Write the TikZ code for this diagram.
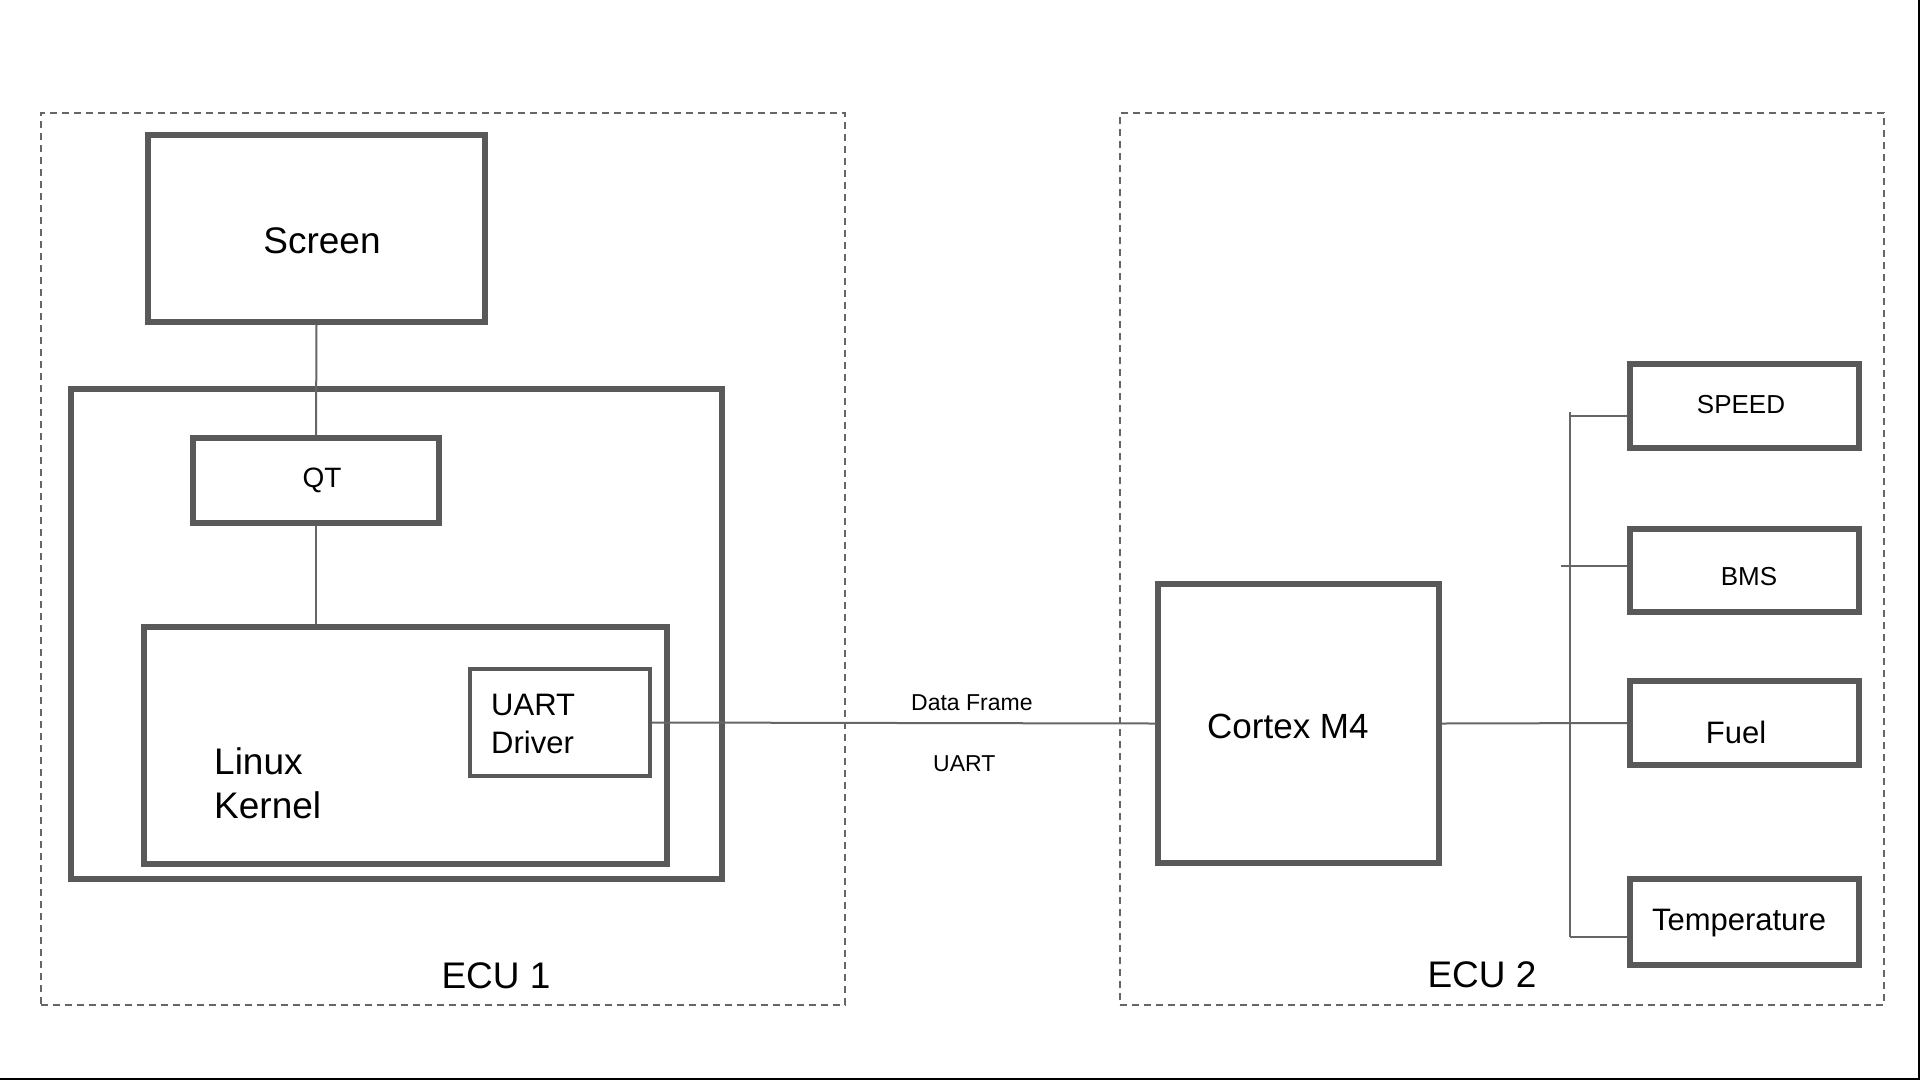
\documentclass[tikz,border=0pt]{standalone}
\usepackage{fontspec}
\setmainfont{Liberation Sans}
\definecolor{boxgray}{HTML}{595959}
\definecolor{linegray}{HTML}{666666}
\begin{document}
\begin{tikzpicture}[x=1pt,y=-1pt,
  box/.style={draw=boxgray, line width=5.5pt, rectangle, inner sep=0pt, fill=none},
  thinbox/.style={draw=boxgray, line width=3.5pt, rectangle, inner sep=0pt},
  ecu/.style={draw=linegray, line width=2pt, dash pattern=on 7pt off 5pt, rectangle, inner sep=0pt},
  wire/.style={draw=linegray, line width=2pt},
  txt/.style={inner sep=0pt, text=black},
  fbig/.style={font=\fontsize{37}{44}\selectfont},
  fmid/.style={font=\fontsize{31}{37}\selectfont},
  fqt/.style={font=\fontsize{28}{34}\selectfont},
  fsens/.style={font=\fontsize{26}{31}\selectfont},
  fsmall/.style={font=\fontsize{23}{28}\selectfont}
]
\useasboundingbox (0,0) rectangle (1920,1080);
\fill[white] (0,0) rectangle (1920,1080);

% ECU frames
\node[ecu, minimum width=804pt, minimum height=892pt] (ecu1) at (443,559) {};
\node[ecu, minimum width=764pt, minimum height=892pt] (ecu2) at (1502,559) {};

% ECU 1 content
\node[box, minimum width=337pt, minimum height=187pt] (screen) at (316.5,228.5) {};
\node[box, minimum width=651pt, minimum height=490pt] (outer) at (396.5,634) {};
\node[box, minimum width=246pt, minimum height=85pt] (qt) at (316,480.5) {};
\node[box, minimum width=523pt, minimum height=237pt] (kernel) at (405.5,745.5) {};
\node[thinbox, minimum width=180pt, minimum height=107pt] (uartdrv) at (560,722.5) {};

\node[txt, fbig] (screentxt) at (322,241) {Screen};
\node[txt, fqt] (qttxt) at (322,480) {QT};
\node[txt, fbig, anchor=base west] (lk1) at (214,774) {Linux};
\node[txt, fbig, anchor=base west] (lk2) at (214,818) {Kernel};
\node[txt, fmid, anchor=base west] (ud1) at (491,715) {UART};
\node[txt, fmid, anchor=base west] (ud2) at (491,753) {Driver};
\node[txt, fbig] (ecu1txt) at (496,976) {ECU 1};

% ECU 2 content
\node[box, minimum width=281pt, minimum height=279pt] (cortex) at (1298.5,723.5) {};
\node[txt, fbig, font=\fontsize{35}{42}\selectfont, anchor=base west] (cortextxt) at (1207,738) {Cortex M4};
\node[box, minimum width=229pt, minimum height=84pt] (speed) at (1744.5,406) {};
\node[box, minimum width=229pt, minimum height=83pt] (bms) at (1744.5,570.5) {};
\node[box, minimum width=229pt, minimum height=84pt] (fuel) at (1744.5,723) {};
\node[box, minimum width=229pt, minimum height=86pt] (temp) at (1744.5,922) {};
\node[txt, fsens] (speedtxt) at (1741,405) {SPEED};
\node[txt, fsens] (bmstxt) at (1749,577) {BMS};
\node[txt, fmid] (fueltxt) at (1736,732) {Fuel};
\node[txt, fmid] (temptxt) at (1739,923) {Temperature};
\node[txt, fbig] (ecu2txt) at (1482,975) {ECU 2};

% link labels
\node[txt, fsmall, anchor=base west] (dftxt) at (911,710) {Data Frame};
\node[txt, fsmall, anchor=base west] (uarttxt) at (933,771) {UART};

% connectors
\draw[wire] (screen.south) -- (qt.north);
\draw[wire] (qt.south) -- (qt.south |- kernel.north);
\draw[wire] (uartdrv.east) -- (cortex.west);
\draw[wire] (cortex.east) -- (fuel.west);

\coordinate (bt) at (1570,412);
\coordinate (bb) at (1570,937);
\coordinate (sp) at (1570,416);
\coordinate (bm) at (1561,566);
\draw[wire] (bt) -- (bb);
\draw[wire] (sp) -- (sp -| speed.west);
\draw[wire] (bm) -- (bm -| bms.west);
\draw[wire] (bb) -- (bb -| temp.west);

% image frame edges
\draw[black, line width=2pt] (1919,0) -- (1919,1080);
\draw[black, line width=2pt] (0,1079) -- (1920,1079);
\end{tikzpicture}
\end{document}
